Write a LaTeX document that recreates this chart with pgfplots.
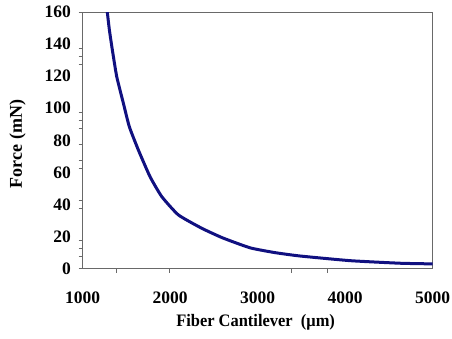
\documentclass[border=0pt]{standalone}
\usepackage{pgfplots}
\pgfplotsset{compat=1.18}
\usepackage{fontspec}
\setmainfont{Liberation Serif}
\definecolor{navyline}{RGB}{16,16,128}
\definecolor{framegray}{RGB}{105,105,105}
\begin{document}
\fontsize{17}{20}\selectfont\bfseries
\begin{tikzpicture}
\begin{axis}[
  scale only axis, width=350pt, height=256.7pt,
  xmin=1000, xmax=5000, ymin=0, ymax=160,
  xtick={1000,2000,3000,4000,5000},
  ytick={0,20,...,160},
  major tick length=0pt,
  tick pos=left,
  extra x ticks={1390,1990,3390,3800},
  extra x tick labels={},
  extra x tick style={major tick length=4pt, tick align=outside},
  extra y ticks={0,7.5,12.5,17.5,37.5,42.5,62.5,67.5,77.5,87.5,92.5,97.5,127.5,132.5,137.5,160},
  extra y tick labels={},
  extra y tick style={major tick length=4pt, tick align=outside},
  axis line style={framegray, line width=1pt},
  tick style={framegray, line width=0.7pt},
  /pgf/number format/assume math mode=true,
  /pgf/number format/1000 sep={},
  ticklabel style={font=\fontsize{17.5}{20}\selectfont\bfseries},
  xticklabel style={yshift=-17pt},
  yticklabel style={xshift=-6pt},
  xlabel={\scalebox{0.94}[1]{Fiber Cantilever\ \ (μm)}},
  ylabel={Force (mN)},
  xlabel style={at={(axis description cs:0.494,0)}, anchor=center, yshift=-54pt, font=\fontsize{17.5}{20}\selectfont\bfseries},
  ylabel style={at={(axis description cs:-0.186,0.486)}, anchor=center, font=\fontsize{18}{20}\selectfont\bfseries},
]
\addplot[navyline, line width=3pt, smooth, tension=0.3] coordinates {
  (1281,160) (1305,148.8) (1339,136.3) (1389,119.7) (1465,103.1)
  (1533,88.5) (1636,74) (1770,57.3) (1904,44.9) (2094,33.5)
  (2361,25.2) (2600,19.2) (2914,13) (3200,10) (3487,7.9)
  (4059,5) (4631,3.4) (5000,3)
};
\end{axis}
\pgfresetboundingbox
\path (-82.7pt,-69.3pt) rectangle (369.3pt,268.7pt);
\end{tikzpicture}
\end{document}
